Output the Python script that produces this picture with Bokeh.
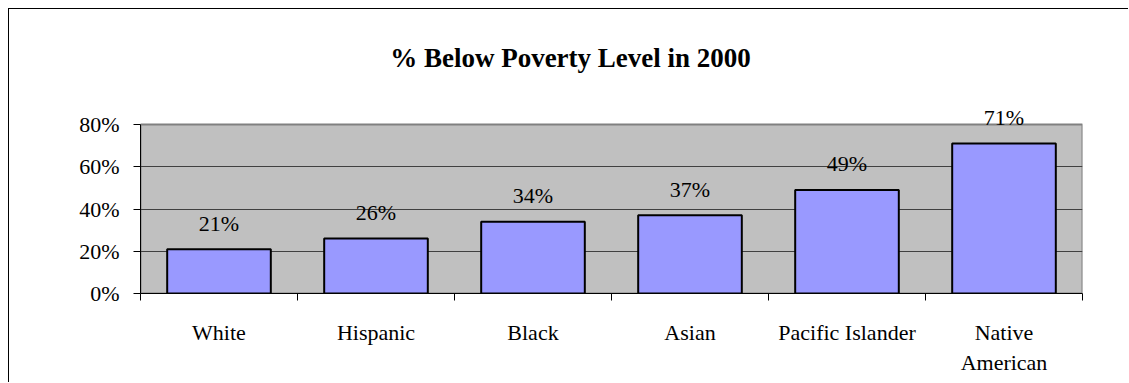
from bokeh.plotting import figure
from bokeh.models import (ColumnDataSource, Label, FactorRange, Range1d, CustomJSTickFormatter,
                          LinearAxis, CategoricalAxis, FixedTicker, PrintfTickFormatter, BoxAnnotation)
from bokeh.embed import file_html
from bokeh.resources import INLINE

categories = ["White", "Hispanic", "Black", "Asian", "Pacific Islander", "Native\nAmerican"]
values = [21, 26, 34, 37, 49, 71]
value_labels = ["21%", "26%", "34%", "37%", "49%", "71%"]
y_ticks = [0, 20, 40, 60, 80]
grid_ticks = [20, 40, 60]
title_text = "% Below Poverty Level in 2000"

FONT = "Liberation Serif"

src = ColumnDataSource(dict(cat=categories, val=values, lab=value_labels))

# frame spans the whole upper part of the chart so the title and the top label are not clipped;
# the grey plot area (0-80 %) is drawn as a box annotation
Y_MAX = 80
Y_VIEW_END = Y_MAX * 284 / 169

x_range = FactorRange(*categories, range_padding=0)
p = figure(x_range=x_range, y_range=Range1d(0, Y_VIEW_END),
           width=1120, height=374, output_backend="svg", toolbar_location=None,
           x_axis_location=None, min_border_left=131, min_border_right=47,
           min_border_top=0, min_border_bottom=90)
p.margin = (8, 0, 0, 8)
p.styles = {"border-left": "1px solid #000", "border-top": "1px solid #000"}

p.background_fill_color = "white"
p.border_fill_color = "white"
p.outline_line_color = None

plot_area = BoxAnnotation(bottom=0, top=Y_MAX, fill_color="#C0C0C0", fill_alpha=1.0,
                          line_color="#808080", line_width=2, line_alpha=1.0, level="image")
p.add_layout(plot_area)

p.vbar(x="cat", top="val", width=0.66, source=src, fill_color="#9999FF",
       line_color="black", line_width=2)

# y axis
yax = p.yaxis[0]
yax.ticker = FixedTicker(ticks=y_ticks)
yax.bounds = (0, Y_MAX)
yax.formatter = PrintfTickFormatter(format="%d%%")
yax.axis_line_color = "black"
yax.major_tick_out = 7
yax.major_tick_in = 0
yax.minor_tick_line_color = None
yax.major_label_standoff = 14
yax.major_label_text_font = FONT
yax.major_label_text_font_size = "22px"
yax.major_label_text_color = "black"

p.ygrid.grid_line_color = "#404040"
p.ygrid.ticker = FixedTicker(ticks=grid_ticks)
p.ygrid.level = "underlay"
p.xgrid.grid_line_color = None

# tick axis at category boundaries (synthetic coordinates of the factor range)
boundaries = list(range(len(categories) + 1))
tick_axis = LinearAxis(ticker=FixedTicker(ticks=boundaries),
                       formatter=CustomJSTickFormatter(code="return ''"),
                       major_tick_out=7, major_tick_in=0,
                       minor_tick_line_color=None, axis_line_color="black",
                       major_label_standoff=0)
p.add_layout(tick_axis, "below")

cat_axis = CategoricalAxis(axis_line_color=None, major_tick_line_color=None,
                           minor_tick_line_color=None, major_label_standoff=13,
                           major_label_text_font=FONT, major_label_text_font_size="22px",
                           major_label_text_color="black")
p.add_layout(cat_axis, "below")

# value labels at the synthetic centre of each factor (i + 0.5)
for i, (v, t) in enumerate(zip(values, value_labels)):
    p.add_layout(Label(x=i + 0.5, y=v, text=t, text_align="center", text_baseline="alphabetic",
                       y_offset=26, text_font=FONT, text_font_size="22px", text_color="black"))

title = Label(x=430, y=236, x_units="screen", y_units="screen", text=title_text,
              text_align="center", text_baseline="alphabetic", text_font=FONT,
              text_font_size="27px", text_font_style="bold", text_color="black")
p.add_layout(title)

open("out.html", "w").write(file_html(p, INLINE))
